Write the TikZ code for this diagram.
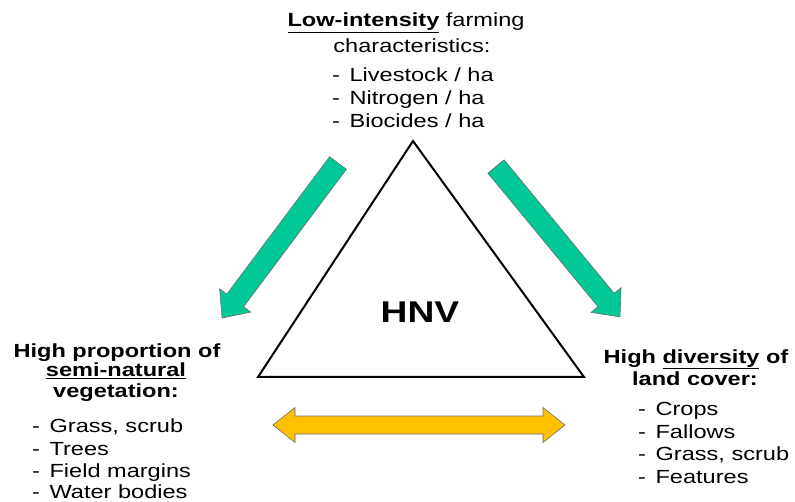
\documentclass[tikz,border=0pt]{standalone}
\usepackage{fontspec}
\setmainfont[FakeStretch=1.24]{Liberation Sans}
\definecolor{arrgreen}{RGB}{0,200,150}
\definecolor{arryellow}{RGB}{255,192,0}
\definecolor{arredge}{RGB}{110,110,110}
\newcommand{\dashitem}{-\ \kern3pt}
\tikzset{
  txt/.style={inner sep=0pt, font=\fontsize{19}{23}\selectfont},
  ctr/.style={txt, anchor=base},
  lft/.style={txt, anchor=base west},
  greenarrow/.style={fill=arrgreen, draw=arredge, line width=0.6pt, line join=miter},
  yellowarrow/.style={fill=arryellow, draw=arredge, line width=0.6pt, line join=miter},
  tri/.style={draw=black, line width=2pt, line join=miter}
}
\begin{document}
\begin{tikzpicture}[x=1pt,y=-1pt]
\useasboundingbox (0,0) rectangle (795,502);
% top block
\node[ctr] (t1) at (406,27) {\textbf{\underline{Low-intensity}} farming};
\node[ctr] (t2) at (412,53) {characteristics:};
\node[lft] (t3) at (332,82) {\dashitem Livestock / ha};
\node[lft] (t4) at (332,105) {\dashitem Nitrogen / ha};
\node[lft] (t5) at (332,128) {\dashitem Biocides / ha};
% left block
\node[ctr] (l1) at (117,358) {\textbf{High proportion of}};
\node[ctr] (l2) at (116,377) {\textbf{\underline{semi-natural}}};
\node[ctr] (l3) at (116,397) {\textbf{vegetation:}};
\node[lft] (l4) at (32,432) {\dashitem Grass, scrub};
\node[lft] (l5) at (32,455) {\dashitem Trees};
\node[lft] (l6) at (32,477) {\dashitem Field margins};
\node[lft] (l7) at (32,498) {\dashitem Water bodies};
% right block
\node[ctr] (r1) at (696,363) {\textbf{High \underline{diversity} of}};
\node[ctr] (r2) at (695,385) {\textbf{land cover:}};
\node[lft] (r3) at (638,415) {\dashitem Crops};
\node[lft] (r4) at (638,438) {\dashitem Fallows};
\node[lft] (r5) at (638,460) {\dashitem Grass, scrub};
\node[lft] (r6) at (638,483) {\dashitem Features};
% triangle
\coordinate (apex) at (413,141);
\coordinate (bl) at (258,377);
\coordinate (br) at (584,377);
\draw[tri] (apex) -- (bl) -- (br) -- cycle;
\node[inner sep=0pt, anchor=base, font=\fontsize{30}{34}\selectfont\bfseries] (hnv) at (420,323) {HNV};
% left green arrow
\begin{scope}[shift={(338,163)}, rotate=233.2, y=1pt]
\draw[greenarrow] (0,10.5) -- (171.6,10.5) -- (171.6,19.5) -- (193.6,0) -- (171.6,-19.5) -- (171.6,-10.5) -- (0,-10.5) -- cycle;
\end{scope}
% right green arrow
\begin{scope}[shift={(496,166.5)}, rotate=-50.5, y=1pt]
\draw[greenarrow] (0,10.5) -- (173,10.5) -- (173,19.5) -- (195,0) -- (173,-19.5) -- (173,-10.5) -- (0,-10.5) -- cycle;
\end{scope}
% yellow double arrow
\draw[yellowarrow] (273,425) -- (295,407.5) -- (295,416) -- (543,416) -- (543,407.5) -- (565,425)
  -- (543,442.5) -- (543,434) -- (295,434) -- (295,442.5) -- cycle;
\end{tikzpicture}
\end{document}
